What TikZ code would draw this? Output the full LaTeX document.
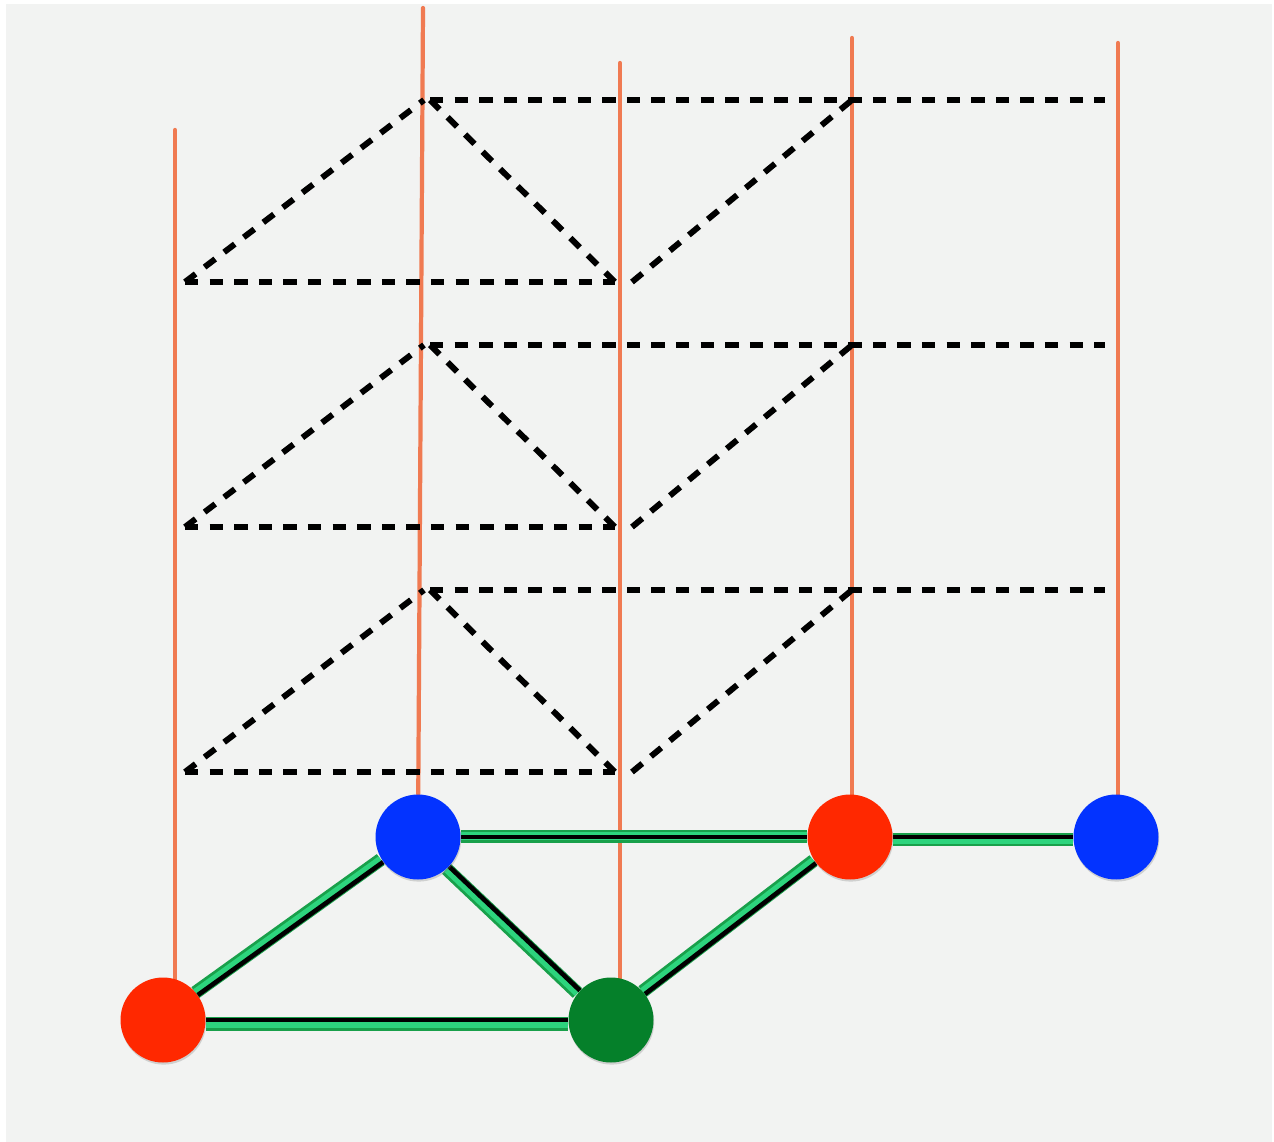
\documentclass[tikz,border=0pt]{standalone}
\usetikzlibrary{shadows}
\pgfdeclarelayer{back}
\pgfdeclarelayer{mid}
\pgfsetlayers{back,mid,main}
\definecolor{bgc}{RGB}{242,243,242}
\definecolor{orng}{RGB}{240,122,82}
\definecolor{nred}{RGB}{255,40,0}
\definecolor{nblue}{RGB}{3,51,255}
\definecolor{ngreen}{RGB}{5,128,42}
\definecolor{gdark}{RGB}{25,160,75}
\definecolor{glight}{RGB}{45,212,125}
\begin{document}
\begin{tikzpicture}[x=0.02cm,y=-0.02cm,
  vnode/.style={circle,minimum size=1.7cm,inner sep=0pt,draw=none,
    drop shadow={opacity=0.3,shadow xshift=0.4pt,shadow yshift=-1.2pt}},
  wire/.style={orng,line width=2.4pt,line cap=round},
  scaf/.style={black,line width=3.4pt,dash pattern=on 7.6pt off 6.4pt},
  gedge/.style={gdark,line width=7.6pt},
  gcore/.style={glight,line width=4.4pt},
  bedge/.style={black,line width=2.6pt}]
\useasboundingbox (0,0) rectangle (1274,1142);
% nodes
\node[vnode,fill=nred]   (r1) at (163,1020) {};
\node[vnode,fill=nblue]  (b1) at (418,837) {};
\node[vnode,fill=ngreen] (g)  at (611,1020) {};
\node[vnode,fill=nred]   (r2) at (850,837) {};
\node[vnode,fill=nblue]  (b2) at (1116,837) {};
\begin{pgfonlayer}{back}
  \fill[white] (0,0) rectangle (1274,1142);
  \fill[bgc] (6,4) rectangle (1272,1142);
\end{pgfonlayer}
\begin{pgfonlayer}{mid}
  % orange wires
  \coordinate (t1) at (175,130);
  \coordinate (t2) at (423,8);
  \coordinate (t3) at (620,63);
  \coordinate (t4) at (852,38);
  \coordinate (t5) at (1118,43);
  \draw[wire] (t1) -- (t1 |- r1);
  \draw[wire] (t2) -- (b1);
  \draw[wire] (t3) -- (t3 |- g);
  \draw[wire] (t4) -- (t4 |- r2);
  \draw[wire] (t5) -- (t5 |- b2);
  % green edges with black core
  \foreach \a/\b/\sx/\sy in {r1/b1/-1.4/1.4, r1/g/0/-2.2, b1/g/-1.4/-1.4,
                              g/r2/-1.4/1.4, b1/r2/0/0.4, r2/b2/0/-1.6}{
    \draw[gedge,transform canvas={shift={(\sx pt,\sy pt)}}] (\a) -- (\b);
    \draw[gcore,transform canvas={shift={(\sx pt,\sy pt)}}] (\a) -- (\b);
    \draw[bedge] (\a) -- (\b);
  }
  % dashed scaffold
  \foreach \dy in {0,245,490}{
    \coordinate (p1) at (430,100+\dy);
    \coordinate (p2) at (1105,100+\dy);
    \coordinate (p3) at (185,282+\dy);
    \coordinate (p4) at (615,282+\dy);
    \coordinate (p5) at (424,100+\dy);
    \coordinate (p6) at (632,282+\dy);
    \coordinate (p7) at (852,100+\dy);
    \draw[scaf] (p1) -- (p2);
    \draw[scaf] (p3) -- (p4);
    \draw[scaf] (p3) -- (p5);
    \draw[scaf] (p1) -- (p4);
    \draw[scaf] (p6) -- (p7);
  }
\end{pgfonlayer}
\end{tikzpicture}
\end{document}
